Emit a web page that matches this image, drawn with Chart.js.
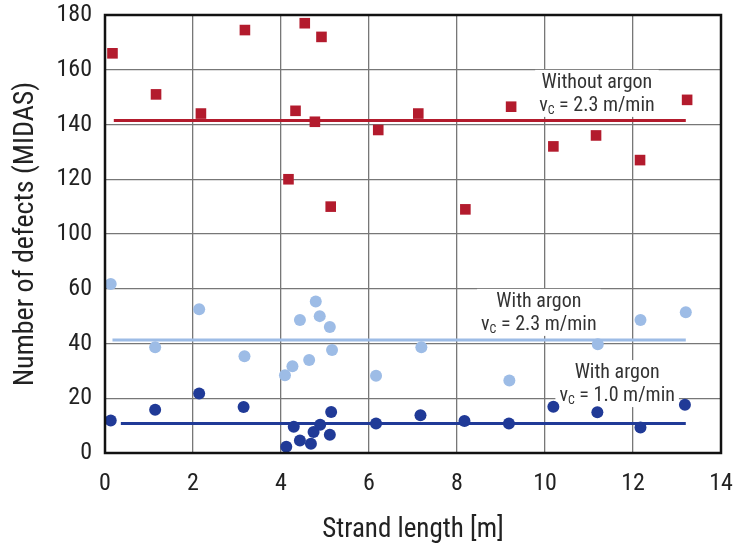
<!DOCTYPE html>
<html>
<head>
<meta charset="utf-8">
<script src="https://cdn.jsdelivr.net/npm/chart.js@4.4.1/dist/chart.umd.min.js"></script>
<style>
  html, body { margin: 0; padding: 0; background: #fff; }
  #wrap { width: 734px; height: 547px; }
</style>
</head>
<body>
<div id="wrap"><canvas id="chart" width="734" height="547"></canvas></div>
<script>
// Without argon, vc = 2.3 m/min
const noArgonX = [0.17, 1.16, 2.18, 3.18, 4.54, 4.92, 4.33, 4.77, 4.17, 5.13, 6.21, 7.12, 8.19, 9.23, 10.19, 11.16, 12.16, 13.23];
const noArgonY = [166, 151, 144, 174.5, 177, 172, 145, 141, 120, 110, 138, 144, 109, 146.5, 132, 136, 127, 149];
// With argon, vc = 2.3 m/min
const argonFastX = [0.13, 1.14, 2.14, 3.17, 4.09, 4.26, 4.43, 4.64, 4.79, 4.88, 5.11, 5.16, 6.16, 7.19, 9.19, 11.2, 12.17, 13.2];
const argonFastY = [63.4, 38.6, 52.5, 35.3, 28.4, 31.7, 48.6, 34, 55.3, 50, 46, 37.6, 28.2, 38.6, 26.5, 39.7, 48.6, 51.4];
// With argon, vc = 1.0 m/min
const argonSlowX = [0.13, 1.14, 2.14, 3.15, 4.12, 4.29, 4.43, 4.68, 4.74, 4.89, 5.11, 5.14, 6.16, 7.17, 8.17, 9.18, 10.19, 11.19, 12.17, 13.18];
const argonSlowY = [11.9, 15.8, 21.7, 16.8, 2.3, 9.6, 4.6, 3.4, 7.7, 10.3, 6.7, 15, 10.8, 13.8, 11.7, 10.8, 16.9, 14.9, 9.3, 17.6];
// mean lines: [xStart, xEnd], level
const noArgonMeanX = [0.2, 13.2];   const noArgonMean = 141.5;
const argonFastMeanX = [0.17, 13.2]; const argonFastMean = 41.3;
const argonSlowMeanX = [0.36, 13.2]; const argonSlowMean = 10.8;
// y axis tick labels (axis is broken between 60 and 100)
const yTickLabels = [0, 20, 40, 60, 100, 120, 140, 160, 180];

// use the first narrow font that is really installed
function pickFont() {
  const c = document.createElement('canvas').getContext('2d');
  const probe = 'Number of defects 0123456789';
  c.font = '40px monospace';
  const base = c.measureText(probe).width;
  const list = ['Liberation Sans Narrow', 'Arial Narrow', 'Roboto Condensed', 'Noto Sans Condensed',
                'Open Sans Condensed', 'Noto Sans SemiCondensed', 'DejaVu Sans Condensed'];
  for (const f of list) {
    c.font = '40px "' + f + '", monospace';
    if (c.measureText(probe).width !== base) return '"' + f + '", sans-serif';
  }
  return 'sans-serif';
}
const FONT = pickFont();
const RED = '#b31b2d', LIGHT = '#9dbce6', DARK = '#203a97';

// the axis is broken: 60..100 takes a single grid step
const squash = v => (v <= 60 ? v : v <= 100 ? 60 + (v - 60) / 2 : v - 20);
const pts = (xs, ys) => xs.map((x, i) => ({ x: x, y: squash(ys[i]) }));
const meanPts = (xs, v) => xs.map(x => ({ x: x, y: squash(v) }));

const labels = [
  { x: 11.18, y: 135.2, title: 'Without argon', speed: '2.3' },
  { x: 9.86, y: 55.2, title: 'With argon', speed: '2.3' },
  { x: 11.64, y: 29.2, title: 'With argon', speed: '1.0' },
];

const annotations = {
  id: 'annotations',
  measure(ctx, l) {
    ctx.font = '20px ' + FONT;
    const w1 = ctx.measureText(l.title).width;
    const a = ctx.measureText('v').width;
    ctx.font = '12px ' + FONT;
    const b = ctx.measureText('C').width;
    ctx.font = '20px ' + FONT;
    const c = ctx.measureText(' = ' + l.speed + ' m/min').width;
    return { w1, a, b, c, w2: a + b + c };
  },
  beforeDatasetsDraw(chart) {
    const { ctx, scales } = chart;
    ctx.save();
    ctx.fillStyle = '#fff';
    labels.forEach(l => {
      const m = this.measure(ctx, l);
      const cx = scales.x.getPixelForValue(l.x);
      const cy = scales.y.getPixelForValue(l.y);
      const w = Math.max(m.w1, m.w2) + 8;
      ctx.fillRect(cx - w / 2, cy - 13, w, 47);
    });
    ctx.restore();
  },
  afterDatasetsDraw(chart) {
    const { ctx, scales } = chart;
    ctx.save();
    ctx.fillStyle = '#333';
    ctx.textBaseline = 'middle';
    labels.forEach(l => {
      const m = this.measure(ctx, l);
      const cx = scales.x.getPixelForValue(l.x);
      const cy = scales.y.getPixelForValue(l.y);
      ctx.font = '20px ' + FONT;
      ctx.textAlign = 'center';
      ctx.fillText(l.title, cx, cy);
      ctx.textAlign = 'left';
      const x0 = cx - m.w2 / 2;
      const y2 = cy + 23;
      ctx.fillText('v', x0, y2);
      ctx.font = '12px ' + FONT;
      ctx.fillText('C', x0 + m.a, y2 + 5);
      ctx.font = '20px ' + FONT;
      ctx.fillText(' = ' + l.speed + ' m/min', x0 + m.a + m.b, y2);
    });
    ctx.restore();
  },
  afterDraw(chart) {
    const { ctx, chartArea } = chart;
    ctx.save();
    ctx.strokeStyle = '#111';
    ctx.lineWidth = 2.5;
    ctx.strokeRect(chartArea.left, chartArea.top, chartArea.right - chartArea.left, chartArea.bottom - chartArea.top);
    ctx.restore();
  }
};

new Chart(document.getElementById('chart'), {
  type: 'scatter',
  data: {
    datasets: [
      { label: 'Without argon', data: pts(noArgonX, noArgonY), pointStyle: 'rect', pointRadius: 7.5, pointHoverRadius: 7.5, backgroundColor: RED, borderColor: RED, borderWidth: 0, order: 0 },
      { label: 'With argon 2.3', data: pts(argonFastX, argonFastY), pointStyle: 'circle', pointRadius: 6, pointHoverRadius: 6, backgroundColor: LIGHT, borderColor: LIGHT, borderWidth: 0, order: 0 },
      { label: 'With argon 1.0', data: pts(argonSlowX, argonSlowY), pointStyle: 'circle', pointRadius: 6, pointHoverRadius: 6, backgroundColor: DARK, borderColor: DARK, borderWidth: 0, order: 0 },
      { type: 'line', data: meanPts(noArgonMeanX, noArgonMean), borderColor: RED, borderWidth: 3, pointRadius: 0, fill: false, order: 1 },
      { type: 'line', data: meanPts(argonFastMeanX, argonFastMean), borderColor: LIGHT, borderWidth: 3, pointRadius: 0, fill: false, order: 1 },
      { type: 'line', data: meanPts(argonSlowMeanX, argonSlowMean), borderColor: DARK, borderWidth: 3, pointRadius: 0, fill: false, order: 1 },
    ]
  },
  options: {
    responsive: false,
    animation: false,
    layout: { padding: { top: 15, right: 13, left: 9, bottom: 0 } },
    plugins: { legend: { display: false }, tooltip: { enabled: false } },
    scales: {
      x: {
        type: 'linear', min: 0, max: 14,
        ticks: { stepSize: 2, color: '#222', font: { family: FONT, size: 24 }, padding: 17 },
        grid: { color: '#777', lineWidth: 1.3, drawTicks: false },
        border: { display: false },
        title: { display: true, text: 'Strand length [m]', color: '#222', font: { family: FONT, size: 27 }, padding: { top: 0, bottom: 1 } },
        afterFit(scale) { scale.height = 94; scale.paddingLeft = 0; scale.paddingRight = 0; }
      },
      y: {
        type: 'linear', min: 0, max: 160,
        ticks: {
          stepSize: 20, color: '#222', font: { family: FONT, size: 24 }, padding: 13,
          callback: (v, i) => yTickLabels[i]
        },
        grid: { color: '#777', lineWidth: 1.3, drawTicks: false },
        border: { display: false },
        title: { display: true, text: 'Number of defects (MIDAS)', color: '#222', font: { family: FONT, size: 28 }, padding: 0 },
        afterFit(scale) { scale.width = 96; scale.paddingTop = 0; scale.paddingBottom = 0; }
      }
    }
  },
  plugins: [annotations]
});
</script>
</body>
</html>
